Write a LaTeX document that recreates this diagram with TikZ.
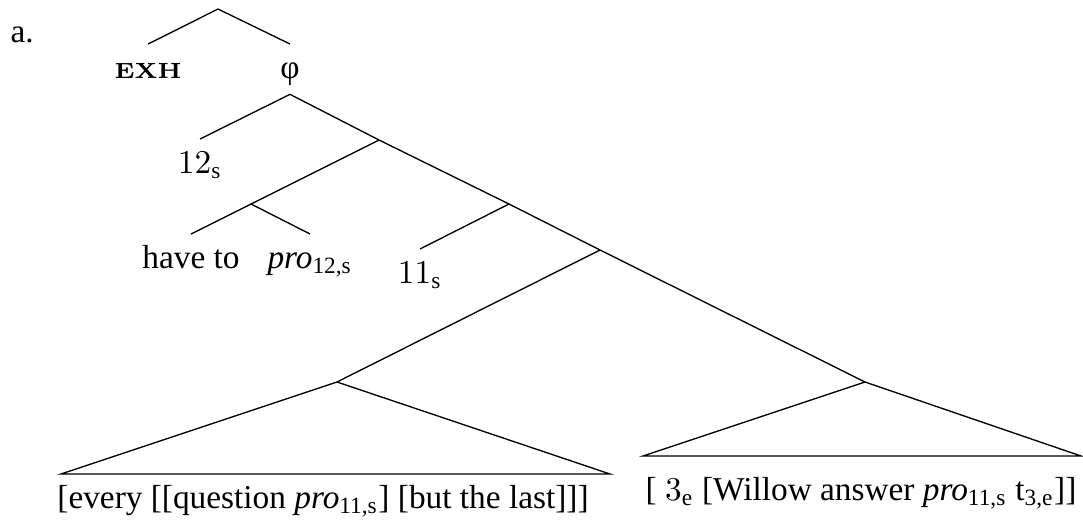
\documentclass[tikz,border=0pt]{standalone}
\usepackage{amsmath}
\usepackage[no-math]{fontspec}
\setmainfont{Liberation Serif}
\newfontfamily\exhfont[FakeStretch=1.08]{Latin Modern Roman}
\usepackage{tikz}
\usetikzlibrary{positioning}
\tikzset{
  leaf/.style={anchor=north, inner sep=0pt, text height=10.2pt, text depth=1pt},
  branch/.style={draw, line width=0.4pt},
  roof/.style={draw, line width=0.4pt, line join=miter},
}

\begin{document}
\begin{tikzpicture}[x=0.3pt, y=-0.3pt]
  \useasboundingbox (0,0) rectangle (1083,520);
  \node[anchor=base west, inner sep=0pt] (ex) at (10,42) {a.};

  % top: EXH and phi
  \coordinate (top) at (218,9);
  \node[leaf] (exh) at (148,44) {\exhfont\bfseries\fontsize{6.6}{7}\selectfont EXH};
  \node[leaf, text depth=4.5pt] (phi) at (290,44) {φ};
  \draw[branch] (exh.north) -- (top) -- (phi.north);

  % 12_s and the spine
  \node[leaf] (s12) at (200,139) {$12_{\text{s}}$};
  \coordinate (n2) at (379,140);
  \draw[branch] (s12.north) -- (phi.south) -- (n2);

  \coordinate (n3) at (251,204);
  \coordinate (n4) at (509,204);
  \draw[branch] (n3) -- (n2) -- (n4);

  \node[leaf] (have) at (191,234) {have to};
  \node[leaf] (pro12) at (310,234) {\textit{pro}$_{\text{12,s}}$};
  \draw[branch] (have.north) -- (n3) -- (pro12.north);

  \node[leaf] (s11) at (420,249) {$11_{\text{s}}$};
  \coordinate (n5) at (600,250);
  \draw[branch] (s11.north) -- (n4) -- (n5);

  \coordinate (n6) at (337,382);
  \coordinate (n7) at (865,382);
  \draw[branch] (n6) -- (n5) -- (n7);

  % roofs
  \coordinate (r1l) at (61,474);
  \coordinate (r1r) at (610,474);
  \node[leaf] (dp) at (323,474) {[every [[question \textit{pro}$_{\text{11,s}}$] [but the last]]]};
  \draw[roof] (n6) -- (r1l) -- (r1r) -- cycle;

  \coordinate (r2l) at (643,456);
  \coordinate (r2r) at (1081,456);
  \node[leaf, yshift=-3pt] (vp) at (861,456) {[ $3_{\text{e}}$ [Willow answer \textit{pro}$_{\text{11,s}}$ t$_{\text{3,e}}$]]};
  \draw[roof] (n7) -- (r2l) -- (r2r) -- cycle;
\end{tikzpicture}
\end{document}
